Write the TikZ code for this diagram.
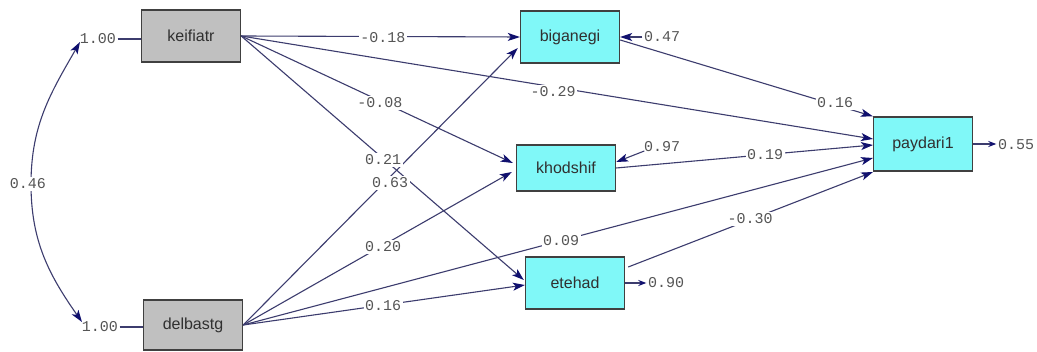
\documentclass[tikz,border=0pt]{standalone}
\usepackage{fontspec}
\setmainfont{Liberation Sans}
\newfontfamily\labfont{Liberation Mono}
\usetikzlibrary{arrows.meta,calc}
\definecolor{edgecol}{HTML}{3C3C6E}
\definecolor{tipcol}{HTML}{10106E}
\definecolor{boxgray}{HTML}{C0C0C0}
\definecolor{boxcyan}{HTML}{80F8F8}
\definecolor{boxborder}{HTML}{404040}
\definecolor{boxtext}{HTML}{303030}
\definecolor{labcol}{HTML}{555555}
\begin{document}
\begin{tikzpicture}[x=1pt,y=-1pt,
  obs/.style={draw=boxborder, line width=1.4pt, minimum width=99pt, minimum height=52pt, inner sep=0pt,
    font=\fontsize{16}{18}\selectfont, text=boxtext},
  exo/.style={obs, fill=boxgray},
  endo/.style={obs, fill=boxcyan},
  lab/.style={font=\labfont\fontsize{15}{17}\selectfont, text=labcol, fill=white, inner sep=1.5pt},
  nolab/.style={font=\labfont\fontsize{15}{17}\selectfont, text=labcol, inner sep=1.5pt},
  conn/.style={draw=edgecol, line width=1.1pt, -{Stealth[length=12pt,width=8pt,inset=3pt,color=tipcol]}},
  both/.style={draw=edgecol, line width=1.1pt, {Stealth[length=12pt,width=8pt,inset=3pt,color=tipcol]}-{Stealth[length=12pt,width=8pt,inset=3pt,color=tipcol]}},
  plain/.style={draw=edgecol, line width=1.1pt}
]
\useasboundingbox[fill=white] (0,0) rectangle (1037,352);

% boxes
\node[exo]  (keif) at (191,36)  {keifiatr};
\node[exo, minimum height=50pt]  (delb) at (193,325) {delbastg};
\node[endo] (bigan) at (570,37) {biganegi};
\node[endo, minimum height=46pt] (khod) at (566,168) {khodshif};
\node[endo] (eteh) at (575,283) {etehad};
\node[endo, minimum height=54pt] (payd) at (923,144) {paydari1};

% variance labels of exogenous
\node[nolab] (v1) at (98,39) {1.00};
\node[nolab] (v2) at (100,327) {1.00};
\draw[plain] (v1.east) -- (keif.west |- v1.east);
\draw[plain] (v2.east) -- (delb.west |- v2.east);

% covariance
\coordinate (ct) at (80,42);
\coordinate (cb) at (82,322);
\draw[both] (ct) to[out=240,in=90] (31,184) to[out=-90,in=125] (cb);
\node[lab] (cov) at (28,184) {0.46};

% paths
\draw[conn] (keif.east) -- (bigan.west);
\draw[conn] (keif.east) -- (873,139) coordinate (p1);
\draw[conn] (keif.east) -- ($(khod.west)+(-3,-5)$);
\draw[conn] (keif.east) -- ($(eteh.west)+(-1,-3)$);
\draw[conn] (delb.east) -- ($(bigan.west)+(-2,11)$);
\draw[conn] (delb.east) -- ($(khod.west)+(-4,4)$);
\draw[conn] (delb.east) -- (873,158) coordinate (p3);
\draw[conn] (delb.east) -- ($(eteh.west)+(0,2)$);
\draw[conn] ($(bigan.east)+(0,3)$) -- (payd.north west);
\draw[conn] (khod.east) -- (873,145) coordinate (p2);
\draw[conn] ($(eteh.east)+(3,-16)$) -- (873,172) coordinate (p4);

% path labels
\node[lab] (l1) at (383,38) {-0.18};
\node[lab] (l2) at (553,92) {-0.29};
\node[lab] (l3) at (380,103) {-0.08};
\node[lab] (l4) at (383,160) {0.21};
\node[lab] (l5) at (390,183) {0.63};
\node[lab] (l6) at (383,247) {0.20};
\node[lab] (l7) at (561,241) {0.09};
\node[lab] (l8) at (383,306) {0.16};
\node[lab] (l9) at (835,103) {0.16};
\node[lab] (l10) at (765,155) {0.19};
\node[lab] (l11) at (750,219) {-0.30};

% residuals
\node[nolab] (e1) at (662,37) {0.47};
\node[nolab] (e2) at (662,147) {0.97};
\node[nolab] (e3) at (666,283) {0.90};
\node[nolab] (e4) at (1016,145) {0.55};
\draw[conn] (e1.west) -- (bigan.east);
\draw[conn] ($(e2.west)+(2,4)$) -- ($(khod.east)+(0,-6)$);
\draw[conn, line width=1.6pt, -{Stealth[length=8pt,width=6pt,color=tipcol]}] (eteh.east |- e3.west) -- (e3.west);
\draw[conn, line width=1.6pt, -{Stealth[length=8pt,width=6pt,color=tipcol]}] (payd.east) -- (e4.west |- payd.east);
\end{tikzpicture}
\end{document}
